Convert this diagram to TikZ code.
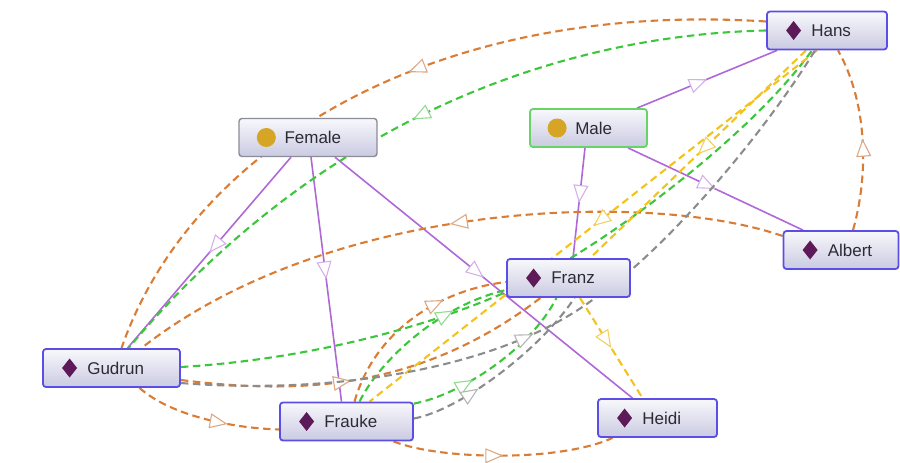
\documentclass[tikz,border=0pt]{standalone}
\usepackage{fontspec}
\setmainfont{Liberation Sans}
\usetikzlibrary{calc,arrows.meta,decorations.markings}
\pgfdeclarelayer{background}
\pgfsetlayers{background,main}

\definecolor{indborder}{HTML}{5B4EE6}
\definecolor{clsborder}{HTML}{8C8C98}
\definecolor{maleborder}{HTML}{66D466}
\definecolor{boxtop}{HTML}{F8F8FC}
\definecolor{boxbot}{HTML}{CACAE2}
\definecolor{txt}{HTML}{2B2B36}
\definecolor{gem}{HTML}{5E1A58}
\definecolor{gold}{HTML}{D6A526}
\definecolor{isa}{HTML}{B068D8}
\definecolor{isatip}{HTML}{D4B0EA}
\definecolor{org}{HTML}{DA7C34}
\definecolor{orgtip}{HTML}{DDA886}
\definecolor{grn}{HTML}{3CC63C}
\definecolor{grntip}{HTML}{90DC90}
\definecolor{ylw}{HTML}{F2C21E}
\definecolor{ylwtip}{HTML}{F2D060}
\definecolor{gry}{HTML}{8C8C8C}
\definecolor{grytip}{HTML}{B4B4B4}

\tikzset{
  box/.style={rounded corners=3pt, top color=boxtop, bottom color=boxbot,
    minimum height=38pt, inner sep=0pt},
  indbox/.style={box, draw=indborder, line width=1.8pt},
  clsbox/.style={box, draw=clsborder, line width=1.4pt},
  malebox/.style={box, draw=maleborder, line width=1.8pt},
  lbl/.style={anchor=west, inner sep=0pt, text=txt,
    font=\fontsize{17}{19}\selectfont},
  tri/.style 2 args={postaction={decorate, decoration={markings,
    mark=at position #1 with {\arrow[color=#2, line width=1.1pt]
      {Triangle[length=18pt, width=15pt, fill=white]}}}}},
  rel/.style={line width=2.1pt, dash pattern=on 7.5pt off 4.5pt},
  isaline/.style={draw=isa, line width=1.6pt, tri={#1}{isatip}},
  orgline/.style={rel, draw=org, tri={#1}{orgtip}},
  grnline/.style={rel, draw=grn, tri={#1}{grntip}},
  ylwline/.style={rel, draw=ylw, tri={#1}{ylwtip}},
  gryline/.style={rel, draw=gry, tri={#1}{grytip}},
}

% individual: name, x, y, width, label
\newcommand{\indiv}[5]{%
  \node[indbox, minimum width=#4pt] (#1) at (#2,#3) {};
  \fill[gem] ($(#1.west)+(27.5,0)$) +(0,-9.5) -- +(7.5,0) -- +(0,9.5) -- +(-7.5,0) -- cycle;
  \node[lbl] (#1-l) at ($(#1.west)+(45,0)$) {#5};
}
% class: name, x, y, width, style, label
\newcommand{\klass}[6]{%
  \node[#5, minimum width=#4pt] (#1) at (#2,#3) {};
  \fill[gold] ($(#1.west)+(28,0)$) circle (9.5);
  \node[lbl] (#1-l) at ($(#1.west)+(46,0)$) {#6};
}

\begin{document}
\begin{tikzpicture}[x=1pt, y=-1pt]
\useasboundingbox (0,0) rectangle (900,463);

\indiv{hans}{827}{30.5}{120}{Hans}
\klass{female}{308}{137.5}{138}{clsbox}{Female}
\klass{male}{588.5}{128}{117}{malebox}{Male}
\indiv{albert}{841}{250}{115}{Albert}
\indiv{franz}{568.5}{278}{123}{Franz}
\indiv{gudrun}{111.5}{368}{137}{Gudrun}
\indiv{frauke}{346.5}{421.5}{133}{Frauke}
\indiv{heidi}{657.5}{418}{119}{Heidi}

\begin{pgfonlayer}{background}
% class membership
\draw[isaline=0.5] ($(male.north)+(48.5,0)$) -- ($(hans.south)+(-50,0)$);
\draw[isaline=0.5] ($(male.south)+(39.5,0)$) -- ($(albert.north)+(-38,0)$);
\draw[isaline=0.5] ($(male.south)+(-3.5,0)$) -- ($(franz.north)+(4.5,0)$);
\draw[isaline=0.5] ($(female.south)+(-17,0)$) -- ($(gudrun.north)+(16,0)$);
\draw[isaline=0.5] ($(female.south)+(3,0)$) -- ($(frauke.north)+(-5,0)$);
\draw[isaline=0.5] ($(female.south)+(27,0)$) -- ($(heidi.north)+(-25,0)$);

% orange relation
\draw[orgline=0.47] ($(hans.west)+(0,-9)$) .. controls (430,0) and (190,150) .. ($(gudrun.north)+(10,0)$);
\draw[orgline=0.5] ($(albert.west)+(0,-14)$) .. controls (650,190) and (330,200) .. ($(gudrun.north)+(30,0)$);
\draw[orgline=0.5] ($(albert.north)+(12,0)$) .. controls (870,170) and (866,100) .. ($(hans.south)+(11,0)$);
\draw[orgline=0.65] ($(gudrun.south)+(28,0)$) .. controls (170,415) and (230,428) .. ($(frauke.west)+(0,8)$);
\draw[orgline=0.5] ($(frauke.south)+(47,0)$) .. controls (440,460) and (560,462) .. ($(heidi.south)+(-45,0)$);
\draw[orgline=0.68] ($(frauke.north)+(8,0)$) .. controls (375,330) and (440,290) .. ($(franz.west)+(0,4)$);
\draw[orgline=0.45] ($(gudrun.east)+(0,12)$) .. controls (300,395) and (420,390) .. ($(franz.south)+(-28,0)$);

% green relation
\draw[grnline=0.5] (hans.west) .. controls (560,35) and (320,120) .. ($(gudrun.north)+(17,0)$);
\draw[grnline=0.5] ($(gudrun.east)+(0,-1)$) .. controls (300,360) and (420,330) .. (506,292)
  .. controls (570,268) and (740,150) .. ($(hans.south)+(-15,0)$);
\draw[grnline=0.7] ($(frauke.north)+(13,0)$) .. controls (380,360) and (440,305) .. ($(franz.west)+(0,12)$);
\draw[grnline=0.35] ($(frauke.north east)+(0,2)$) .. controls (460,395) and (530,350) .. ($(franz.south)+(-12,0)$);

% yellow relation
\draw[ylwline=0.5] ($(hans.south)+(-21,0)$) -- ($(franz.north)+(21.5,0)$);
\draw[ylwline=0.5] ($(hans.south)+(-10,0)$) -- ($(frauke.north)+(23,0)$);
\draw[ylwline=0.5] ($(franz.south)+(11.5,0)$) -- ($(heidi.north)+(-15,0)$);

% grey relation
\draw[gryline=0.47] ($(gudrun.east)+(0,15)$) .. controls (330,395) and (500,370) .. (595,298)
  .. controls (660,255) and (760,140) .. ($(hans.south)+(-12,0)$);
\draw[gryline=0.35] ($(frauke.east)+(0,-3)$) .. controls (460,410) and (540,350) .. ($(franz.south)+(6,0)$);
\end{pgfonlayer}
\end{tikzpicture}
\end{document}
